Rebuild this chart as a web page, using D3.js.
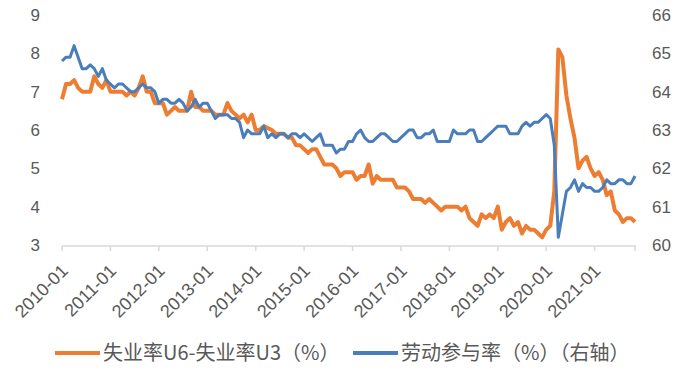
<!DOCTYPE html>
<html>
<head>
<meta charset="utf-8">
<script src="https://cdn.jsdelivr.net/npm/d3@7"></script>
<style>
  body { margin: 0; background: #fff; }
  svg { display: block; font-family: "Liberation Sans", "Noto Sans CJK SC", sans-serif; }
</style>
</head>
<body>
<div id="chart"></div>
<script>
// monthly data, 2010-01 .. 2021-11
var tickLabels = ["2010-01","2011-01","2012-01","2013-01","2014-01","2015-01",
                  "2016-01","2017-01","2018-01","2019-01","2020-01","2021-01"];

// U6 - U3 (left axis)
var u6MinusU3 = [
  6.8, 7.2, 7.2, 7.3, 7.1, 7.0, 7.0, 7.0, 7.4, 7.2, 7.1, 7.3,   // 2010
  7.0, 7.0, 7.0, 7.0, 6.9, 7.0, 6.9, 7.1, 7.4, 7.0, 7.0, 6.7,   // 2011
  6.7, 6.7, 6.4, 6.5, 6.6, 6.5, 6.5, 6.5, 7.0, 6.6, 6.6, 6.5,   // 2012
  6.5, 6.5, 6.4, 6.4, 6.4, 6.7, 6.5, 6.4, 6.3, 6.4, 6.2, 6.4,   // 2013
  6.0, 6.0, 6.1, 6.05, 6.0, 5.9, 5.9, 5.9, 5.8, 5.8, 5.6, 5.6,  // 2014
  5.5, 5.4, 5.5, 5.5, 5.3, 5.1, 5.1, 5.1, 5.0, 4.8, 4.9, 4.9,   // 2015
  4.9, 4.7, 4.8, 4.8, 5.1, 4.6, 4.8, 4.7, 4.7, 4.7, 4.7, 4.5,   // 2016
  4.5, 4.5, 4.4, 4.2, 4.2, 4.2, 4.1, 4.2, 4.1, 4.0, 3.9, 4.0,   // 2017
  4.0, 4.0, 4.0, 3.9, 4.0, 3.7, 3.6, 3.5, 3.8, 3.7, 3.8, 3.7,   // 2018
  4.0, 3.4, 3.6, 3.7, 3.5, 3.6, 3.3, 3.5, 3.4, 3.4, 3.3, 3.2,   // 2019
  3.4, 3.5, 4.4, 8.1, 7.9, 6.9, 6.3, 5.8, 5.0, 5.2, 5.3, 5.0,   // 2020
  4.8, 4.9, 4.7, 4.3, 4.4, 3.9, 3.8, 3.6, 3.7, 3.7, 3.6         // 2021
];

// labour force participation rate (right axis)
var participation = [
  64.8, 64.9, 64.9, 65.2, 64.9, 64.6, 64.6, 64.7, 64.6, 64.4, 64.6, 64.3,
  64.2, 64.1, 64.2, 64.2, 64.1, 64.0, 64.0, 64.1, 64.2, 64.1, 64.1, 64.0,
  63.7, 63.8, 63.8, 63.7, 63.7, 63.8, 63.7, 63.5, 63.6, 63.8, 63.6, 63.7,
  63.7, 63.5, 63.3, 63.4, 63.4, 63.4, 63.3, 63.3, 63.2, 62.8, 63.0, 62.9,
  62.9, 62.9, 63.1, 62.8, 62.9, 62.8, 62.9, 62.9, 62.8, 62.9, 62.9, 62.8,
  62.9, 62.8, 62.7, 62.8, 62.9, 62.6, 62.6, 62.6, 62.4, 62.5, 62.5, 62.7,
  62.7, 62.9, 63.0, 62.8, 62.7, 62.7, 62.8, 62.9, 62.9, 62.8, 62.7, 62.7,
  62.8, 62.9, 63.0, 63.0, 62.8, 62.8, 62.9, 62.9, 63.0, 62.7, 62.7, 62.7,
  62.7, 63.0, 62.9, 62.9, 62.9, 63.0, 63.0, 62.7, 62.7, 62.8, 62.9, 63.0,
  63.1, 63.1, 63.1, 62.9, 62.9, 62.9, 63.1, 63.2, 63.1, 63.2, 63.2, 63.3,
  63.4, 63.3, 62.6, 60.2, 60.8, 61.4, 61.5, 61.7, 61.4, 61.6, 61.5, 61.5,
  61.4, 61.4, 61.5, 61.7, 61.6, 61.6, 61.7, 61.7, 61.6, 61.6, 61.8
];

var leftTicks = [3, 4, 5, 6, 7, 8, 9];
var rightTicks = [60, 61, 62, 63, 64, 65, 66];
var legendNames = ["失业率U6-失业率U3（%）", "劳动参与率（%）（右轴）"];
var colors = ["#ED7D31", "#4A7EBB"];

var width = 694, height = 374;
var margin = {left: 62, right: 636, top: 15, bottom: 245};

var svg = d3.select("#chart").append("svg")
    .attr("width", width)
    .attr("height", height);

var n = participation.length;
var xScale = d3.scaleLinear().domain([0, n - 1]).range([margin.left, margin.right - 1]);
var yLeft = d3.scaleLinear().domain([3, 9]).range([margin.bottom, margin.top]);
var yRight = d3.scaleLinear().domain([60, 66]).range([margin.bottom, margin.top]);

// left axis labels
svg.append("g")
    .attr("transform", "translate(40,0)")
    .call(d3.axisLeft(yLeft).tickValues(leftTicks).tickFormat(d3.format("d")).tickSize(0).tickPadding(0))
    .call(function(g) { g.select(".domain").remove(); })
    .selectAll("text")
    .style("font-size", "17px")
    .style("fill", "#595959");

// right axis labels
svg.append("g")
    .attr("transform", "translate(652,0)")
    .call(d3.axisRight(yRight).tickValues(rightTicks).tickFormat(d3.format("d")).tickSize(0).tickPadding(0))
    .call(function(g) { g.select(".domain").remove(); })
    .selectAll("text")
    .style("font-size", "17px")
    .style("fill", "#595959");

// x axis line + ticks every 12 months
var yearIdx = tickLabels.map(function(d, i) { return i * 12; });
var xAxis = svg.append("g").attr("transform", "translate(0,246)");
xAxis.append("line")
    .attr("x1", margin.left).attr("x2", margin.right)
    .attr("y1", 0).attr("y2", 0)
    .attr("stroke", "#d9d9d9").attr("stroke-width", 1.5);
xAxis.selectAll(".tk")
    .data(yearIdx.concat([n - 1]))
    .enter().append("line")
    .attr("x1", function(d) { return xScale(d); })
    .attr("x2", function(d) { return xScale(d); })
    .attr("y1", 0).attr("y2", 5)
    .attr("stroke", "#d9d9d9").attr("stroke-width", 1.5);
xAxis.selectAll(".lbl")
    .data(tickLabels)
    .enter().append("text")
    .attr("transform", function(d, i) {
        return "translate(" + (xScale(i * 12) + 7) + ",26) rotate(-45)";
    })
    .attr("text-anchor", "end")
    .style("font-size", "18px")
    .style("fill", "#595959")
    .text(function(d) { return d; });

// lines
var lineLeft = d3.line()
    .x(function(d, i) { return xScale(i); })
    .y(function(d) { return yLeft(d); });
var lineRight = d3.line()
    .x(function(d, i) { return xScale(i); })
    .y(function(d) { return yRight(d); });

svg.append("path")
    .datum(u6MinusU3)
    .attr("d", lineLeft)
    .attr("fill", "none")
    .attr("stroke", colors[0])
    .attr("stroke-width", 4)
    .attr("stroke-linejoin", "round");

svg.append("path")
    .datum(participation)
    .attr("d", lineRight)
    .attr("fill", "none")
    .attr("stroke", colors[1])
    .attr("stroke-width", 3)
    .attr("stroke-linejoin", "round");

// legend
var legendX = [55, 353];
var legend = svg.selectAll(".legend")
    .data(legendNames)
    .enter().append("g")
    .attr("transform", function(d, i) { return "translate(" + legendX[i] + ",353)"; });
legend.append("line")
    .attr("x1", 0).attr("x2", 45)
    .attr("stroke", function(d, i) { return colors[i]; })
    .attr("stroke-width", 4);
legend.append("text")
    .attr("x", 48)
    .attr("dy", "0.35em")
    .style("font-family", "'Noto Sans CJK SC', sans-serif")
    .style("font-size", "20px")
    .style("fill", "#595959")
    .text(function(d) { return d; });
</script>
</body>
</html>
